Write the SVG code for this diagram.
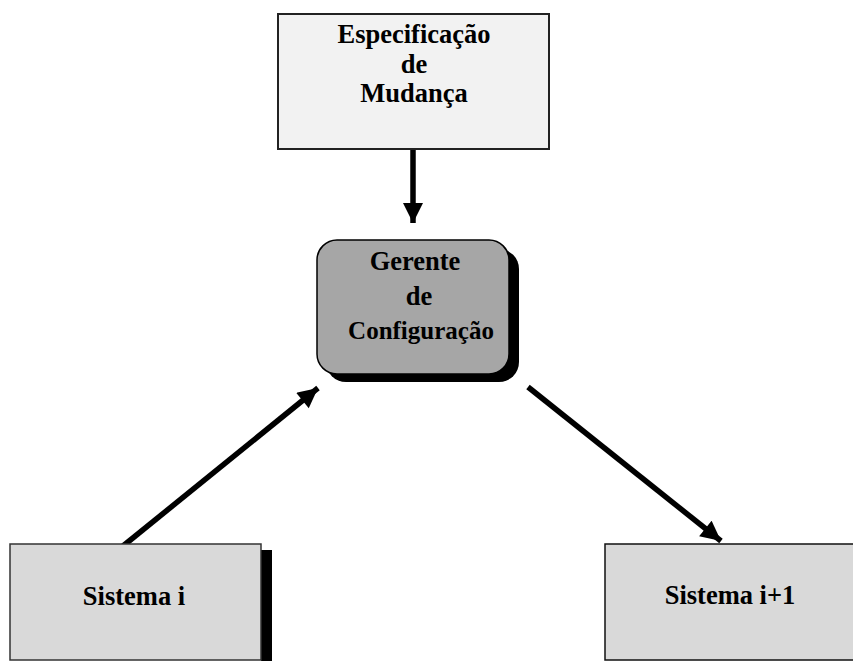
<svg xmlns="http://www.w3.org/2000/svg" width="853" height="661" viewBox="0 0 853 661">
  <style>
    .lbl { font-family: "Liberation Serif", "Times New Roman", serif; font-weight: bold; font-size: 26.5px; fill: #000; text-anchor: middle; }
    .lbl-c { font-size: 25px; }
    .edge { stroke: #000; stroke-width: 5.5; fill: none; }
  </style>
  <defs>
    <marker id="head" viewBox="0 0 10 10" refX="10" refY="5" markerUnits="userSpaceOnUse" markerWidth="21" markerHeight="20" orient="auto">
      <path d="M0,0 L10,5 L0,10 Z" fill="#000"/>
    </marker>
  </defs>
  <rect width="853" height="661" fill="#fff"/>

  <g id="connectors">
    <line class="edge" x1="413" y1="149" x2="413" y2="223" marker-end="url(#head)"/>
    <line class="edge" x1="123" y1="546" x2="318" y2="388" marker-end="url(#head)"/>
    <line class="edge" x1="528" y1="387" x2="721" y2="541" marker-end="url(#head)"/>
  </g>

  <g id="especificacao">
    <rect x="278" y="14" width="271" height="135" fill="#f2f2f2" stroke="#222" stroke-width="2"/>
    <text class="lbl" x="414" y="43">Especificação</text>
    <text class="lbl" x="414" y="73">de</text>
    <text class="lbl" x="414" y="102">Mudança</text>
  </g>

  <g id="gerente">
    <rect x="326" y="249" width="193" height="133" rx="20" fill="#000"/>
    <rect x="317" y="240" width="192" height="134" rx="20" fill="#a6a6a6" stroke="#000" stroke-width="1.5"/>
    <text class="lbl" x="415" y="270">Gerente</text>
    <text class="lbl" x="419" y="305">de</text>
    <text class="lbl lbl-c" x="421" y="339">Configuração</text>
  </g>

  <g id="sistema-i">
    <rect x="261" y="550" width="11" height="111" fill="#000"/>
    <rect x="10" y="544" width="251" height="116" fill="#d9d9d9" stroke="#333" stroke-width="1.5"/>
    <text class="lbl" x="134" y="605">Sistema i</text>
  </g>

  <g id="sistema-i1">
    <rect x="605" y="544" width="250" height="116" fill="#d9d9d9" stroke="#111" stroke-width="1.5"/>
    <text class="lbl" x="730" y="604">Sistema i+1</text>
  </g>
</svg>
